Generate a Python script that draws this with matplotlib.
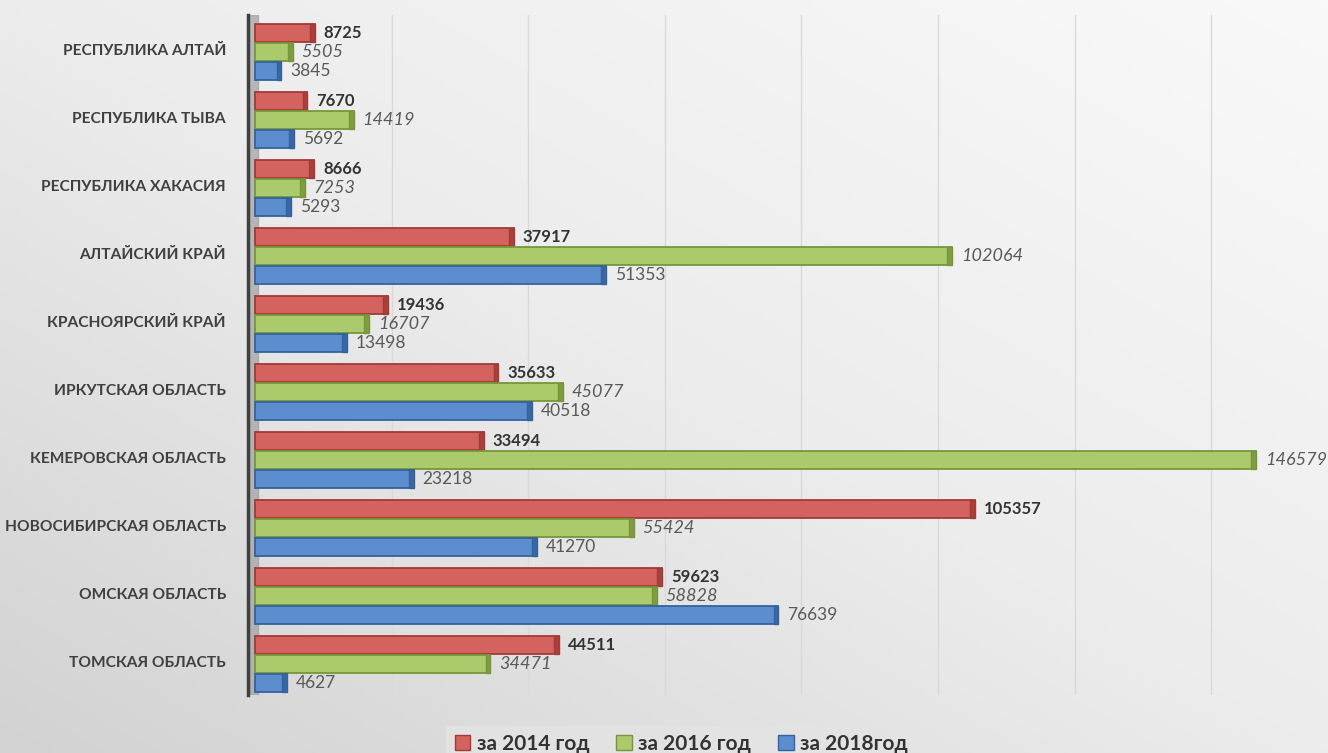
import numpy as np
import matplotlib.pyplot as plt
from matplotlib.patches import Patch
from matplotlib.colors import LinearSegmentedColormap

regions = ['РЕСПУБЛИКА АЛТАЙ', 'РЕСПУБЛИКА ТЫВА', 'РЕСПУБЛИКА ХАКАСИЯ',
           'АЛТАЙСКИЙ КРАЙ', 'КРАСНОЯРСКИЙ КРАЙ', 'ИРКУТСКАЯ ОБЛАСТЬ',
           'КЕМЕРОВСКАЯ ОБЛАСТЬ', 'НОВОСИБИРСКАЯ ОБЛАСТЬ', 'ОМСКАЯ ОБЛАСТЬ',
           'ТОМСКАЯ ОБЛАСТЬ']
y2014 = [8725, 7670, 8666, 37917, 19436, 35633, 33494, 105357, 59623, 44511]
y2016 = [5505, 14419, 7253, 102064, 16707, 45077, 146579, 55424, 58828, 34471]
y2018 = [3845, 5692, 5293, 51353, 13498, 40518, 23218, 41270, 76639, 4627]
series_names = ['за 2014 год', 'за 2016 год', 'за 2018год']

plt.rcParams['font.family'] = ['Lato', 'DejaVu Sans']

fig = plt.figure(figsize=(13.28, 7.53), dpi=100)

# background gradient: light top-right, darker bottom-left
bg = fig.add_axes([0, 0, 1, 1], zorder=-10)
gx, gy = np.meshgrid(np.linspace(0, 1, 300), np.linspace(0, 1, 200))
shade = 0.5 * (1 - gx) + 0.5 * gy
bgcmap = LinearSegmentedColormap.from_list('bg', ['#f9f9f9', '#ececec', '#d2d2d2'])
bg.imshow(shade, cmap=bgcmap, vmin=0, vmax=1, aspect='auto',
          extent=[0, 1, 0, 1], origin='upper')
bg.axis('off')

ax = fig.add_axes([0.1869, 0.077, 0.7766, 0.903])
ax.patch.set_alpha(0)

face = ['#D46360', '#AACA6C', '#5C8DCF']
edge = ['#A23A37', '#77963A', '#34629C']
cap = ['#A8413E', '#7E9C40', '#3A67A2']
txtcol = ['#333333', '#595959', '#595959']
styles = [('bold', 'normal', 12), ('normal', 'italic', 13), ('normal', 'normal', 12.5)]

pos = np.arange(len(regions))
h = 0.26
step = 0.28
for i, vals in enumerate([y2014, y2016, y2018]):
    yy = pos + (i - 1) * step + 0.04
    ax.barh(yy, vals, height=h, color=face[i], edgecolor=edge[i],
            linewidth=1.3, zorder=3)
    # darker end cap (3d look)
    ax.barh(yy, [700] * len(vals), left=np.array(vals) - 700, height=h,
            color=cap[i], edgecolor=edge[i], linewidth=1.0, zorder=3)
    for y, v in zip(yy, vals):
        ax.text(v + 1300, y, str(v), va='center', ha='left',
                fontsize=styles[i][2], color=txtcol[i],
                fontweight=styles[i][0], fontstyle=styles[i][1], zorder=4)

ax.set_xlim(-1000, 150000)
ax.set_ylim(9.5, -0.5)
ax.axvspan(-1000, 500, color='#a0a0a0', alpha=0.7, zorder=1)
for gxv in range(20000, 160000, 20000):
    ax.axvline(gxv, color='#d9d9d9', lw=1, zorder=0)

ax.set_yticks(pos)
ax.set_yticklabels(regions, fontsize=11.2, fontweight='bold', color='#404040')
ax.tick_params(axis='y', length=0, pad=16)
ax.set_xticks([])
for s in ['top', 'right', 'bottom']:
    ax.spines[s].set_visible(False)
ax.spines['left'].set_color('#404040')
ax.spines['left'].set_linewidth(2.5)

handles = [Patch(facecolor=face[i], edgecolor=edge[i], label=series_names[i])
           for i in range(3)]
leg = fig.legend(handles=handles, loc='center', bbox_to_anchor=(0.513, 0.012),
                 ncol=3, fontsize=15, frameon=True, fancybox=False,
                 handlelength=0.75, handleheight=0.75, handletextpad=0.3,
                 columnspacing=1.3, borderpad=0.4)
leg.get_frame().set_facecolor('#e4e4e4')
leg.get_frame().set_edgecolor('none')
for t in leg.get_texts():
    t.set_color('#333333')
    t.set_fontweight('bold')

fig.savefig('out.png', dpi=100)
